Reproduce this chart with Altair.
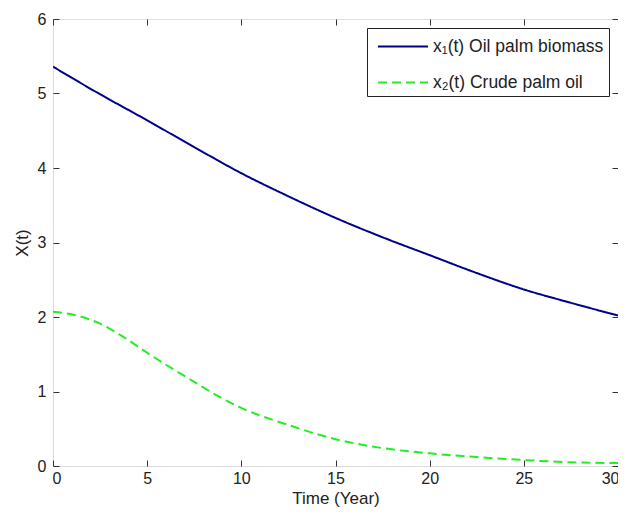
import altair as alt
import pandas as pd

# Values
t_biomass = [0, 2.5, 5, 7.5, 10, 12.5, 15, 17.5, 20, 22.5, 25, 27.5, 30]
x1_biomass = [5.36, 4.99, 4.64, 4.28, 3.93, 3.62, 3.33, 3.07, 2.83, 2.59, 2.37, 2.19, 2.02]

t_cpo = [0, 1.25, 2.5, 3.75, 5, 6.25, 7.5, 8.75, 10, 12.5, 15, 17.5, 20, 22.5, 25, 27.5, 30]
x2_cpo = [2.07, 2.02, 1.91, 1.73, 1.52, 1.32, 1.13, 0.94, 0.78, 0.55, 0.36, 0.24, 0.17, 0.12, 0.08, 0.05, 0.04]

series_names = ["x\u2081(t) Oil palm biomass", "x\u2082(t) Crude palm oil"]
series_colors = ["#00008c", "#22ee22"]
series_dash = [[1, 0], [9, 5]]

x_ticks = [0, 5, 10, 15, 20, 25, 30]
y_ticks = [0, 1, 2, 3, 4, 5, 6]

rows = []
for t, v in zip(t_biomass, x1_biomass):
    rows.append({"t": t, "x": v, "series": series_names[0]})
for t, v in zip(t_cpo, x2_cpo):
    rows.append({"t": t, "x": v, "series": series_names[1]})
df = pd.DataFrame(rows)

FONT = "Liberation Sans, Arial, Helvetica, sans-serif"
TXT = "#222222"
AX = "#333333"

xscale = alt.Scale(domain=[0, 30], nice=False, zero=False)
yscale = alt.Scale(domain=[0, 6], nice=False, zero=False)

legend = alt.Legend(orient="none", legendX=314, legendY=9, title=None,
                    strokeColor="#222222", fillColor="white",
                    padding=5, symbolOffset=5, symbolType="M-1,0H3", symbolSize=625,
                    symbolStrokeWidth=2, labelFont=FONT, labelLimit=400,
                    labelFontSize=17.5, labelColor=TXT, labelOffset=29,
                    rowPadding=14, cornerRadius=0)

main = alt.Chart(df).mark_line(strokeWidth=2, interpolate="monotone", clip=True).encode(
    x=alt.X("t:Q", scale=xscale,
            axis=alt.Axis(orient="bottom", values=x_ticks, offset=-6, tickSize=6,
                          tickColor=AX, domain=False, grid=False, labelPadding=4,
                          labelFlush=True, labelFlushOffset=1,
                          labelFontSize=16, labelFont=FONT, labelColor=TXT,
                          title="Time (Year)", titleFont=FONT, titleFontSize=17,
                          titleFontWeight="normal", titleColor=TXT, titlePadding=4)),
    y=alt.Y("x:Q", scale=yscale,
            axis=alt.Axis(orient="left", values=y_ticks, offset=-6, tickSize=6,
                          tickColor=AX, domain=False, grid=False, labelPadding=7,
                          labelFlush=False,
                          labelFontSize=16, labelFont=FONT, labelColor=TXT,
                          title="X(t)", titleFont=FONT, titleFontSize=17,
                          titleFontWeight="normal", titleColor=TXT, titlePadding=6)),
    color=alt.Color("series:N",
                    scale=alt.Scale(domain=series_names, range=series_colors),
                    legend=legend),
    strokeDash=alt.StrokeDash("series:N",
                              scale=alt.Scale(domain=series_names, range=series_dash),
                              legend=legend),
)

frame = alt.Chart(df).mark_point(opacity=0).encode(
    x=alt.X("t:Q", scale=xscale,
            axis=alt.Axis(orient="top", values=x_ticks, offset=-6, tickSize=6,
                          tickColor=AX, domain=False, grid=False, labels=False,
                          title=None)),
    y=alt.Y("x:Q", scale=yscale,
            axis=alt.Axis(orient="right", values=y_ticks, offset=-6, tickSize=6,
                          tickColor=AX, domain=False, grid=False, labels=False,
                          title=None)),
)

chart = alt.layer(main, frame).resolve_axis(x="independent", y="independent").properties(
    width=565, height=447,
    autosize=alt.AutoSizeParams(type="none"),
    padding={"left": 45, "top": 11, "right": 0, "bottom": 46},
).configure_view(stroke=AX, strokeWidth=1).configure(background="white")

chart.save("out.html", embed_options={"renderer": "svg", "actions": False})
